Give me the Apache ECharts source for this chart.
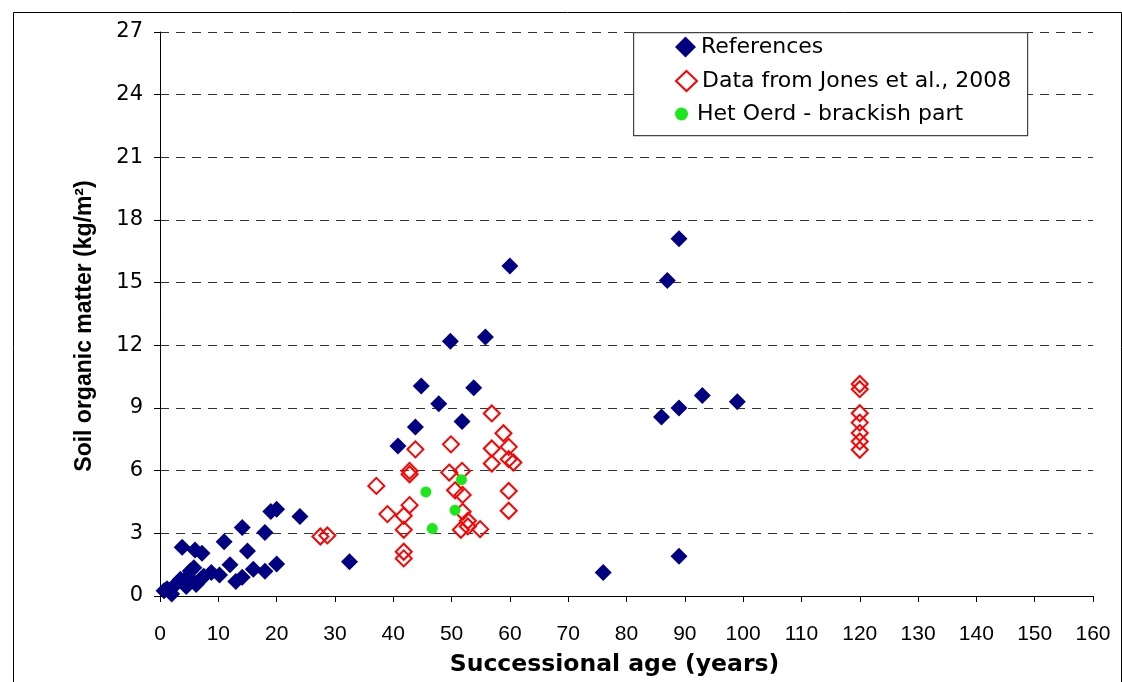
<!DOCTYPE html>
<html>
<head>
<meta charset="utf-8">
<script src="https://cdn.jsdelivr.net/npm/echarts@6/dist/echarts.min.js"></script>
<style>
html,body{margin:0;padding:0;background:#fff;}
#chart{width:1122px;height:682px;}
</style>
</head>
<body>
<div id="chart"></div>
<script>
const xTicks = [0,10,20,30,40,50,60,70,80,90,100,110,120,130,140,150,160];
const yTicks = [0,3,6,9,12,15,18,21,24,27];
const seriesNames = ["References", "Data from Jones et al., 2008", "Het Oerd - brackish part"];

const references = [
  [0.7,0.25],[1.2,0.35],[2,0.1],[2.5,0.5],[3.5,0.8],[3.8,2.33],[4.5,0.45],[4.8,0.95],
  [5.2,1.2],[5.8,1.35],[6,2.2],[6.2,0.55],[7,0.8],[7.2,2.05],[7.5,0.95],[8.8,1.13],
  [10.2,1.0],[11,2.6],[12,1.5],[13,0.7],[14.1,0.9],[14.1,3.28],[15,2.15],[16,1.28],
  [18,1.18],[18,3.04],[19,4.05],[20,4.15],[20,1.53],[24,3.8],[32.5,1.64],[40.8,7.18],
  [43.8,8.09],[44.8,10.05],[47.8,9.2],[49.8,12.2],[51.8,8.35],[53.8,9.97],[55.8,12.4],
  [60,15.8],[76,1.13],[86,8.57],[87,15.1],[89,17.1],[89,9.0],[89,1.9],[93,9.6],[99,9.3]
];
const jones = [
  [27.5,2.85],[28.7,2.9],[37.1,5.27],[39,3.92],[41.8,3.84],[41.8,3.17],[41.8,2.12],[41.8,1.8],
  [42.8,5.99],[42.8,5.83],[42.8,4.35],[43.8,7.02],[49.6,5.91],[49.9,7.26],[50.6,5.06],
  [51.8,5.99],[51.9,4.84],[51.9,4.03],[51.6,3.17],[52.8,3.6],[52.8,3.33],[54.9,3.2],
  [56.9,8.74],[56.9,7.06],[56.9,6.34],[58.9,7.79],[59.8,7.14],[59.8,6.55],[60.6,6.39],
  [59.8,5.03],[59.8,4.08],
  [120,10.15],[120,9.9],[120,8.75],[120,8.3],[120,7.8],[120,7.4],[120,7.0]
];
const hetOerd = [[45.6,4.98],[46.7,3.23],[50.6,4.11],[51.7,5.57]];

const chart = echarts.init(document.getElementById('chart'), null, {renderer:'canvas'});
const fontMain = 'Liberation Sans, Arial, sans-serif';
const fontWide = 'DejaVu Sans, Liberation Sans, sans-serif';

const legendText = {fontFamily:fontWide, fontSize:22, color:'#000', lineHeight:26};

const option = {
  backgroundColor: '#ffffff',
  animation: false,
  grid: {left:160, right:29, top:32, bottom:85, containLabel:false},
  xAxis: {
    type:'value', min:0, max:160, interval:10,
    name:'Successional age (years)', nameLocation:'middle', nameGap:57,
    nameTextStyle:{fontFamily:fontWide, fontWeight:'bold', fontSize:23.5, color:'#000', padding:[0,24,0,0]},
    axisLine:{show:true, onZero:false, lineStyle:{color:'#000', width:1}},
    axisTick:{show:true, length:6, inside:false, lineStyle:{color:'#000'}},
    axisLabel:{fontFamily:fontMain, fontSize:21, color:'#000', margin:28,
      formatter: v => xTicks.indexOf(v) >= 0 ? String(v) : ''},
    splitLine:{show:false}
  },
  yAxis: {
    type:'value', min:0, max:27, interval:3,
    name:'Soil organic matter (kg/m²)', nameLocation:'middle', nameGap:64, nameRotate:90,
    nameTextStyle:{fontFamily:fontMain, fontWeight:'bold', fontSize:23, color:'#000', padding:[0,24,0,0]},
    axisLine:{show:true, onZero:false, lineStyle:{color:'#000', width:1}},
    axisTick:{show:true, length:6, lineStyle:{color:'#000'}},
    axisLabel:{fontFamily:fontWide, fontSize:21, color:'#000', margin:17,
      formatter: v => yTicks.indexOf(v) >= 0 ? String(v) : ''},
    splitLine:{show:true, lineStyle:{color:'#333', width:1, type:[9,7]}}
  },
  legend: [
    {data:[seriesNames[0]], orient:'vertical', left:675, top:34, padding:0, z:20,
     itemWidth:21, itemHeight:21, itemGap:0, textStyle:legendText},
    {data:[seriesNames[1]], orient:'vertical', left:675, top:68, padding:0, z:20,
     itemWidth:21, itemHeight:20, itemGap:0, textStyle:legendText},
    {data:[seriesNames[2]], orient:'vertical', left:675, top:101, padding:0, z:20,
     itemWidth:21, itemHeight:13, itemGap:0, textStyle:legendText}
  ],
  graphic: [
    {type:'rect', left:11, top:10, shape:{x:0,y:0,width:1108,height:700}, silent:true, z:-10,
     style:{fill:'none', stroke:'#000', lineWidth:1}},
    {type:'rect', left:633, top:32, shape:{x:0,y:0,width:394,height:103}, silent:true, z:3,
     style:{fill:'#fff', stroke:'#444', lineWidth:1.2}}
  ],
  series: [
    {name:seriesNames[0], type:'scatter', data:references, symbol:'diamond', symbolSize:17,
     itemStyle:{color:'#000080', opacity:1}, z:4},
    {name:seriesNames[1], type:'scatter', data:jones, symbol:'diamond', symbolSize:16,
     itemStyle:{color:'rgba(255,255,255,0)', borderColor:'#ff0000', borderWidth:2, opacity:1}, z:5},
    {name:seriesNames[2], type:'scatter', data:hetOerd, symbol:'circle', symbolSize:11,
     itemStyle:{color:'#1be81b', opacity:1}, z:6}
  ]
};
chart.setOption(option);
</script>
</body>
</html>
